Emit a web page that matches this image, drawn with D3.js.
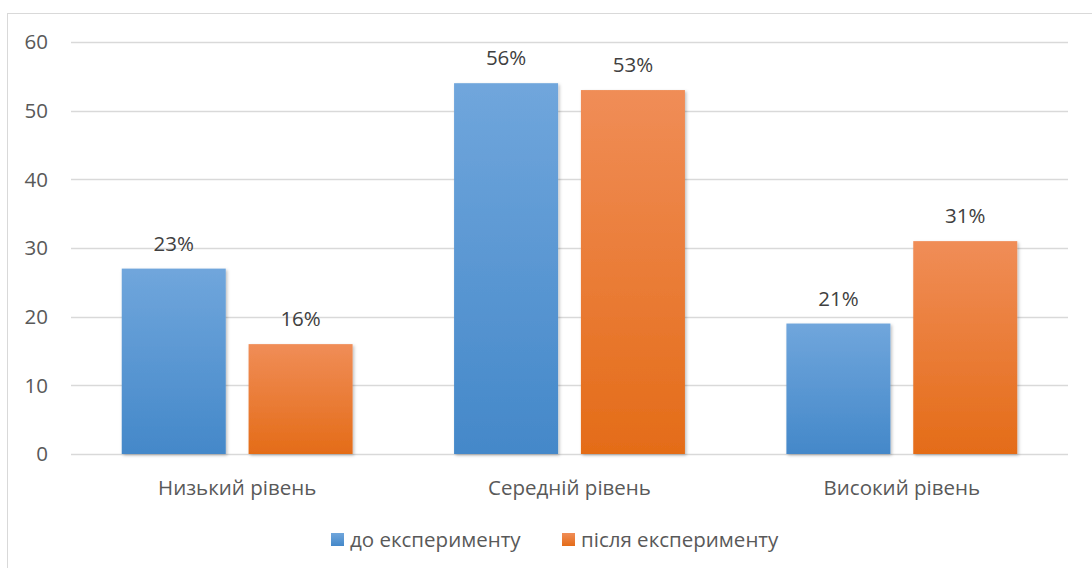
<!DOCTYPE html>
<html>
<head>
<meta charset="utf-8">
<script src="https://cdn.jsdelivr.net/npm/d3@7"></script>
<style>
  body { margin: 0; background: #fff; }
  svg { display: block; font-family: "Open Sans", "Liberation Sans", sans-serif; }
</style>
</head>
<body>
<svg id="chart" width="1092" height="568"></svg>
<script>
var categories = ["Низький рівень", "Середній рівень", "Високий рівень"];
var seriesNames = ["до експерименту", "після експерименту"];
var beforeValues = [27, 54, 19];
var afterValues = [16, 53, 31];
var beforeLabels = ["23%", "56%", "21%"];
var afterLabels = ["16%", "53%", "31%"];
var yTicks = [0, 10, 20, 30, 40, 50, 60];

var svg = d3.select("#chart");

var plotLeft = 71, plotRight = 1068, plotTop = 42, plotBottom = 454;
var fontSize = "20.5px";

// gradients for the bars
var defs = svg.append("defs");
var grads = [
  { id: "gBlue", top: "#70a6dc", bottom: "#4488c9" },
  { id: "gOrange", top: "#f08d57", bottom: "#e46c18" }
];
grads.forEach(function (g) {
  var lg = defs.append("linearGradient")
    .attr("id", g.id)
    .attr("x1", 0).attr("y1", 0).attr("x2", 0).attr("y2", 1);
  lg.append("stop").attr("offset", "0%").attr("stop-color", g.top);
  lg.append("stop").attr("offset", "100%").attr("stop-color", g.bottom);
});
var shadow = defs.append("filter").attr("id", "shadow")
  .attr("x", "-10%").attr("y", "-10%").attr("width", "125%").attr("height", "120%");
shadow.append("feDropShadow")
  .attr("dx", 1.5).attr("dy", 1.5).attr("stdDeviation", 1.5)
  .attr("flood-color", "#000").attr("flood-opacity", 0.25);

// outer frame
svg.append("rect")
  .attr("x", 7.5).attr("y", 13.5)
  .attr("width", 1100).attr("height", 600)
  .attr("fill", "none")
  .attr("stroke", "#d9d9d9");

var x = d3.scaleBand().domain(categories).range([plotLeft, plotRight]);
var xInner = d3.scaleBand().domain(seriesNames)
  .range([0, x.bandwidth()])
  .paddingInner(0.18).paddingOuter(0.4);
var y = d3.scaleLinear().domain([0, 60]).range([plotBottom, plotTop]);

// gridlines
svg.append("g")
  .selectAll("line")
  .data(yTicks)
  .enter()
  .append("line")
  .attr("x1", plotLeft).attr("x2", plotRight)
  .attr("y1", function (d) { return Math.round(y(d)) + 0.5; })
  .attr("y2", function (d) { return Math.round(y(d)) + 0.5; })
  .style("stroke", "#d9d9d9")
  .style("stroke-width", 1.5);

// y tick labels
svg.append("g")
  .selectAll("text")
  .data(yTicks)
  .enter()
  .append("text")
  .attr("x", 48)
  .attr("y", function (d) { return y(d); })
  .attr("dy", "0.35em")
  .attr("text-anchor", "end")
  .attr("font-size", fontSize)
  .attr("fill", "#595959")
  .text(function (d) { return d; });

var series = [
  { name: seriesNames[0], values: beforeValues, labels: beforeLabels, fill: "url(#gBlue)" },
  { name: seriesNames[1], values: afterValues, labels: afterLabels, fill: "url(#gOrange)" }
];

series.forEach(function (s) {
  var g = svg.append("g");
  g.selectAll("rect")
    .data(categories)
    .enter()
    .append("rect")
    .attr("x", function (d) { return x(d) + xInner(s.name); })
    .attr("y", function (d, i) { return y(s.values[i]); })
    .attr("width", xInner.bandwidth())
    .attr("height", function (d, i) { return y(0) - y(s.values[i]); })
    .attr("fill", s.fill)
    .attr("filter", "url(#shadow)");

  g.selectAll("text")
    .data(categories)
    .enter()
    .append("text")
    .attr("x", function (d) { return x(d) + xInner(s.name) + xInner.bandwidth() / 2; })
    .attr("y", function (d, i) { return y(s.values[i]) - 18; })
    .attr("text-anchor", "middle")
    .attr("font-size", fontSize)
    .attr("fill", "#404040")
    .text(function (d, i) { return s.labels[i]; });
});

// category labels
svg.append("g")
  .selectAll("text")
  .data(categories)
  .enter()
  .append("text")
  .attr("x", function (d) { return x(d) + x.bandwidth() / 2; })
  .attr("y", 495)
  .attr("text-anchor", "middle")
  .attr("font-size", fontSize)
  .attr("fill", "#595959")
  .text(function (d) { return d; });

// legend
var legendX = [331, 562];
var legend = svg.append("g")
  .selectAll("g")
  .data(series)
  .enter()
  .append("g")
  .attr("transform", function (d, i) { return "translate(" + legendX[i] + ",533)"; });
legend.append("rect")
  .attr("width", 13).attr("height", 13)
  .attr("fill", function (d) { return d.fill; });
legend.append("text")
  .attr("x", 19)
  .attr("y", 7)
  .attr("dy", "0.35em")
  .attr("font-size", fontSize)
  .attr("fill", "#595959")
  .text(function (d) { return d.name; });
</script>
</body>
</html>
